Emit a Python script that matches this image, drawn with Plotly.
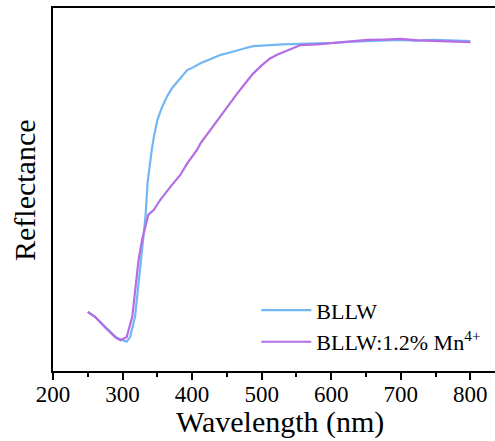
import plotly.graph_objects as go

wl_bllw = [250, 260, 275, 290, 300, 306, 311, 318, 323, 328, 333, 336, 339, 342, 345, 350, 357, 364, 371, 383, 393, 400, 412, 425, 441, 452, 465, 476, 488, 508, 530, 555, 580, 603, 630, 651, 675, 699, 720, 747, 770, 800]
r_bllw = [16.3, 15.0, 12.2, 9.4, 8.5, 8.1, 9.4, 15.0, 24.2, 33.3, 42.5, 52.0, 57.0, 60.9, 64.5, 69.1, 72.8, 75.6, 77.9, 80.6, 82.9, 83.5, 84.8, 85.8, 87.1, 87.6, 88.4, 88.9, 89.5, 89.8, 90.0, 90.1, 90.2, 90.4, 90.7, 90.9, 91.0, 91.2, 91.0, 91.2, 91.1, 90.9]

wl_mn = [250, 260, 275, 290, 297, 306, 314, 318, 323, 328, 333, 337, 345, 354, 369, 383, 393, 407, 412, 426, 441, 453, 465, 477, 488, 500, 512, 522, 532, 545, 556, 580, 604, 630, 652, 675, 700, 725, 748, 775, 800]
r_mn = [16.3, 15.0, 12.0, 9.2, 8.5, 9.4, 15.0, 22.3, 30.6, 36.1, 39.8, 43.0, 44.4, 47.1, 50.8, 54.0, 57.2, 60.9, 62.7, 66.4, 70.1, 73.3, 76.5, 79.4, 82.0, 84.2, 86.1, 87.1, 87.9, 89.0, 89.8, 90.0, 90.4, 90.9, 91.2, 91.3, 91.5, 91.1, 90.9, 90.8, 90.6]

x_ticks = [200, 300, 400, 500, 600, 700, 800]

FONT = "Liberation Serif, Times New Roman, serif"

fig = go.Figure()
fig.add_trace(go.Scatter(x=wl_bllw, y=r_bllw, mode="lines", name="BLLW",
                         line=dict(color="#72b6f4", width=2.2)))
fig.add_trace(go.Scatter(x=wl_mn, y=r_mn, mode="lines", name="BLLW:1.2% Mn<sup>4+</sup>",
                         line=dict(color="#b56de6", width=2.2)))

# the original figure is cropped at its right edge, so the plot area runs past the window
PLOT_W = 457
fig.update_layout(
    width=53 + PLOT_W, height=441,
    margin=dict(l=53, r=0, t=8, b=70, autoexpand=False),
    paper_bgcolor="white", plot_bgcolor="white",
    font=dict(family=FONT, color="black"),
    showlegend=True,
    legend=dict(x=0.4449, y=0.225, xanchor="left", yanchor="top",
                font=dict(size=22, family=FONT), bgcolor="rgba(0,0,0,0)",
                itemwidth=50, tracegroupgap=0),
    xaxis=dict(range=[200, 200 + PLOT_W / 0.6956], tickvals=x_ticks, ticks="outside", ticklen=7,
               tickwidth=2, tickcolor="black", showline=True, linecolor="black", linewidth=2,
               mirror=True, showgrid=False, zeroline=False, tickfont=dict(size=23, family=FONT),
               automargin=False, ticklabelstandoff=-6,
               minor=dict(dtick=50, ticks="outside", ticklen=4, tickwidth=2, tickcolor="black",
                          showgrid=False)),
    yaxis=dict(range=[0, 100], showticklabels=False, ticks="", showline=True, linecolor="black",
               linewidth=2, mirror=False, showgrid=False, zeroline=False, automargin=False),
    annotations=[
        dict(text="Wavelength (nm)", xref="paper", yref="paper", x=(280 - 53) / PLOT_W, y=-0.1405,
             xanchor="center", yanchor="middle", showarrow=False,
             font=dict(size=30, family=FONT, color="black")),
        dict(text="Reflectance", xref="paper", yref="paper", x=(24 - 53) / PLOT_W, y=0.4986,
             xanchor="center", yanchor="middle", showarrow=False, textangle=-90,
             font=dict(size=30, family=FONT, color="black")),
    ],
)

fig.write_html("out.html", config={"displayModeBar": False},
               post_script="document.body.style.margin='0px';document.body.style.overflow='hidden';")
